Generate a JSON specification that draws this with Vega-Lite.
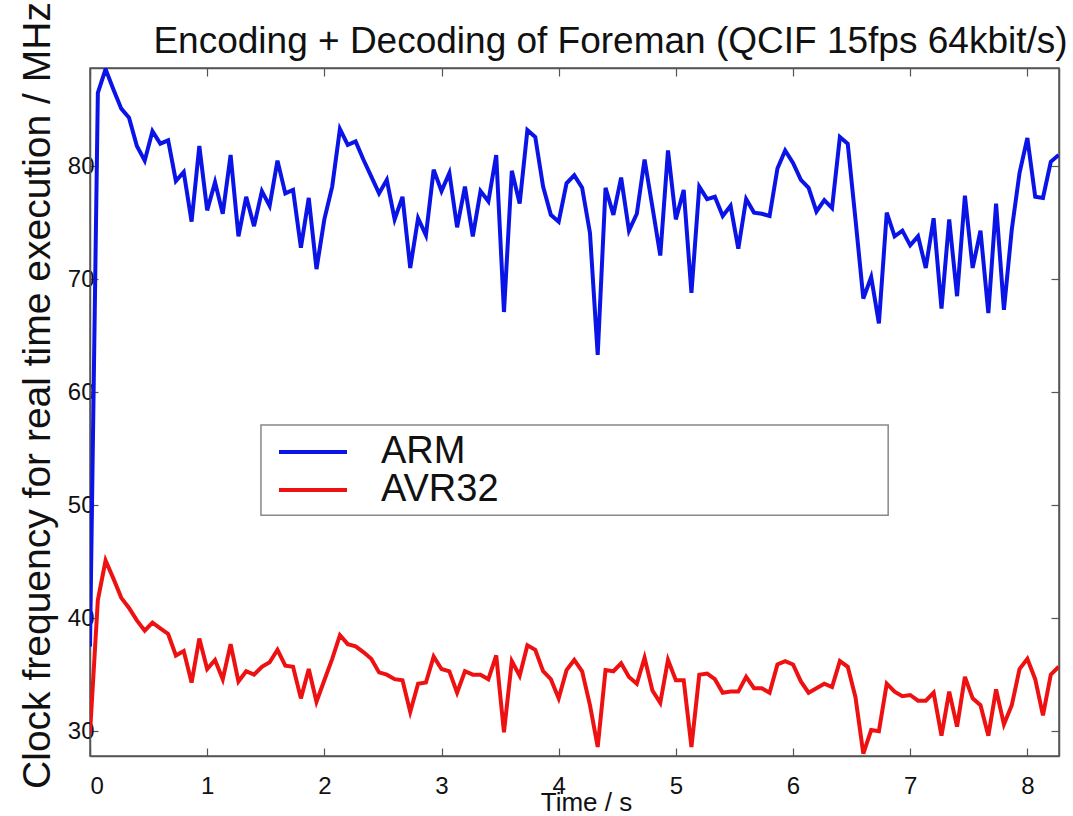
{
  "$schema": "https://vega.github.io/schema/vega-lite/v6.json",
  "width": 969,
  "height": 688,
  "autosize": "none",
  "padding": {"left": 90, "top": 68, "right": 14, "bottom": 60},
  "background": "white",
  "title": {"text": "Encoding + Decoding of Foreman (QCIF 15fps 64kbit/s)", "font": "Liberation Sans", "fontSize": 37, "fontWeight": "normal", "color": "#111", "anchor": "middle", "dx": 36, "dy": 69, "offset": 10},
  "config": {
    "view": {"stroke": "#555", "strokeWidth": 1.5},
    "axis": {"grid": false, "domainColor": "#555", "domainWidth": 1.5, "tickColor": "#555", "tickWidth": 1.2, "labelFont": "Liberation Sans", "labelColor": "#111", "titleFont": "Liberation Sans", "titleColor": "#111", "titleFontWeight": "normal"}
  },
  "datasets": {
    "freq": [
      {"time":0,"cpu":"ARM","mhz":37.5},{"time":0.067,"cpu":"ARM","mhz":86.5},{"time":0.133,"cpu":"ARM","mhz":88.6},{"time":0.2,"cpu":"ARM","mhz":86.8},{"time":0.267,"cpu":"ARM","mhz":85.1},{"time":0.333,"cpu":"ARM","mhz":84.3},{"time":0.4,"cpu":"ARM","mhz":81.8},{"time":0.467,"cpu":"ARM","mhz":80.5},{"time":0.533,"cpu":"ARM","mhz":83.1},{"time":0.6,"cpu":"ARM","mhz":82.0},{"time":0.667,"cpu":"ARM","mhz":82.3},{"time":0.733,"cpu":"ARM","mhz":78.7},{"time":0.8,"cpu":"ARM","mhz":79.5},{"time":0.867,"cpu":"ARM","mhz":75.1},{"time":0.933,"cpu":"ARM","mhz":81.8},
      {"time":1,"cpu":"ARM","mhz":76.1},{"time":1.067,"cpu":"ARM","mhz":78.6},{"time":1.133,"cpu":"ARM","mhz":75.8},{"time":1.2,"cpu":"ARM","mhz":81.0},{"time":1.267,"cpu":"ARM","mhz":73.8},{"time":1.333,"cpu":"ARM","mhz":77.3},{"time":1.4,"cpu":"ARM","mhz":74.7},{"time":1.467,"cpu":"ARM","mhz":77.8},{"time":1.533,"cpu":"ARM","mhz":76.5},{"time":1.6,"cpu":"ARM","mhz":80.5},{"time":1.667,"cpu":"ARM","mhz":77.6},{"time":1.733,"cpu":"ARM","mhz":77.9},{"time":1.8,"cpu":"ARM","mhz":72.8},{"time":1.867,"cpu":"ARM","mhz":77.2},{"time":1.933,"cpu":"ARM","mhz":70.9},
      {"time":2,"cpu":"ARM","mhz":75.3},{"time":2.067,"cpu":"ARM","mhz":78.2},{"time":2.133,"cpu":"ARM","mhz":83.3},{"time":2.2,"cpu":"ARM","mhz":81.9},{"time":2.267,"cpu":"ARM","mhz":82.2},{"time":2.333,"cpu":"ARM","mhz":80.6},{"time":2.4,"cpu":"ARM","mhz":79.1},{"time":2.467,"cpu":"ARM","mhz":77.6},{"time":2.533,"cpu":"ARM","mhz":78.8},{"time":2.6,"cpu":"ARM","mhz":75.3},{"time":2.667,"cpu":"ARM","mhz":77.3},{"time":2.733,"cpu":"ARM","mhz":71.0},{"time":2.8,"cpu":"ARM","mhz":75.4},{"time":2.867,"cpu":"ARM","mhz":73.9},{"time":2.933,"cpu":"ARM","mhz":79.7},
      {"time":3,"cpu":"ARM","mhz":77.8},{"time":3.067,"cpu":"ARM","mhz":79.4},{"time":3.133,"cpu":"ARM","mhz":74.6},{"time":3.2,"cpu":"ARM","mhz":78.2},{"time":3.267,"cpu":"ARM","mhz":73.8},{"time":3.333,"cpu":"ARM","mhz":77.8},{"time":3.4,"cpu":"ARM","mhz":76.9},{"time":3.467,"cpu":"ARM","mhz":81.0},{"time":3.533,"cpu":"ARM","mhz":67.1},{"time":3.6,"cpu":"ARM","mhz":79.6},{"time":3.667,"cpu":"ARM","mhz":76.7},{"time":3.733,"cpu":"ARM","mhz":83.2},{"time":3.8,"cpu":"ARM","mhz":82.6},{"time":3.867,"cpu":"ARM","mhz":78.2},{"time":3.933,"cpu":"ARM","mhz":75.7},
      {"time":4,"cpu":"ARM","mhz":75.1},{"time":4.067,"cpu":"ARM","mhz":78.5},{"time":4.133,"cpu":"ARM","mhz":79.2},{"time":4.2,"cpu":"ARM","mhz":78.1},{"time":4.267,"cpu":"ARM","mhz":74.1},{"time":4.333,"cpu":"ARM","mhz":63.3},{"time":4.4,"cpu":"ARM","mhz":78.1},{"time":4.467,"cpu":"ARM","mhz":75.7},{"time":4.533,"cpu":"ARM","mhz":79.0},{"time":4.6,"cpu":"ARM","mhz":74.3},{"time":4.667,"cpu":"ARM","mhz":75.8},{"time":4.733,"cpu":"ARM","mhz":80.6},{"time":4.8,"cpu":"ARM","mhz":76.4},{"time":4.867,"cpu":"ARM","mhz":72.1},{"time":4.933,"cpu":"ARM","mhz":81.4},
      {"time":5,"cpu":"ARM","mhz":75.3},{"time":5.067,"cpu":"ARM","mhz":77.9},{"time":5.133,"cpu":"ARM","mhz":68.8},{"time":5.2,"cpu":"ARM","mhz":78.2},{"time":5.267,"cpu":"ARM","mhz":77.1},{"time":5.333,"cpu":"ARM","mhz":77.3},{"time":5.4,"cpu":"ARM","mhz":75.6},{"time":5.467,"cpu":"ARM","mhz":76.5},{"time":5.533,"cpu":"ARM","mhz":72.7},{"time":5.6,"cpu":"ARM","mhz":77.1},{"time":5.667,"cpu":"ARM","mhz":75.9},{"time":5.733,"cpu":"ARM","mhz":75.8},{"time":5.8,"cpu":"ARM","mhz":75.6},{"time":5.867,"cpu":"ARM","mhz":79.8},{"time":5.933,"cpu":"ARM","mhz":81.4},
      {"time":6,"cpu":"ARM","mhz":80.3},{"time":6.067,"cpu":"ARM","mhz":78.8},{"time":6.133,"cpu":"ARM","mhz":78.1},{"time":6.2,"cpu":"ARM","mhz":76.0},{"time":6.267,"cpu":"ARM","mhz":77.0},{"time":6.333,"cpu":"ARM","mhz":76.3},{"time":6.4,"cpu":"ARM","mhz":82.6},{"time":6.467,"cpu":"ARM","mhz":82.0},{"time":6.533,"cpu":"ARM","mhz":75.3},{"time":6.6,"cpu":"ARM","mhz":68.3},{"time":6.667,"cpu":"ARM","mhz":70.2},{"time":6.733,"cpu":"ARM","mhz":66.1},{"time":6.8,"cpu":"ARM","mhz":75.9},{"time":6.867,"cpu":"ARM","mhz":73.8},{"time":6.933,"cpu":"ARM","mhz":74.3},
      {"time":7,"cpu":"ARM","mhz":73.0},{"time":7.067,"cpu":"ARM","mhz":73.8},{"time":7.133,"cpu":"ARM","mhz":71.0},{"time":7.2,"cpu":"ARM","mhz":75.4},{"time":7.267,"cpu":"ARM","mhz":67.4},{"time":7.333,"cpu":"ARM","mhz":75.3},{"time":7.4,"cpu":"ARM","mhz":68.5},{"time":7.467,"cpu":"ARM","mhz":77.4},{"time":7.533,"cpu":"ARM","mhz":71.0},{"time":7.6,"cpu":"ARM","mhz":74.3},{"time":7.667,"cpu":"ARM","mhz":67.0},{"time":7.733,"cpu":"ARM","mhz":76.7},{"time":7.8,"cpu":"ARM","mhz":67.3},{"time":7.867,"cpu":"ARM","mhz":74.4},{"time":7.933,"cpu":"ARM","mhz":79.4},
      {"time":8,"cpu":"ARM","mhz":82.5},{"time":8.067,"cpu":"ARM","mhz":77.3},{"time":8.133,"cpu":"ARM","mhz":77.2},{"time":8.2,"cpu":"ARM","mhz":80.4},{"time":8.267,"cpu":"ARM","mhz":81.0},
      {"time":0,"cpu":"AVR32","mhz":29.8},{"time":0.067,"cpu":"AVR32","mhz":41.6},{"time":0.133,"cpu":"AVR32","mhz":45.1},{"time":0.2,"cpu":"AVR32","mhz":43.5},{"time":0.267,"cpu":"AVR32","mhz":41.8},{"time":0.333,"cpu":"AVR32","mhz":40.9},{"time":0.4,"cpu":"AVR32","mhz":39.8},{"time":0.467,"cpu":"AVR32","mhz":38.9},{"time":0.533,"cpu":"AVR32","mhz":39.6},{"time":0.6,"cpu":"AVR32","mhz":39.1},{"time":0.667,"cpu":"AVR32","mhz":38.6},{"time":0.733,"cpu":"AVR32","mhz":36.7},{"time":0.8,"cpu":"AVR32","mhz":37.1},{"time":0.867,"cpu":"AVR32","mhz":34.3},{"time":0.933,"cpu":"AVR32","mhz":38.2},
      {"time":1,"cpu":"AVR32","mhz":35.5},{"time":1.067,"cpu":"AVR32","mhz":36.3},{"time":1.133,"cpu":"AVR32","mhz":34.6},{"time":1.2,"cpu":"AVR32","mhz":37.7},{"time":1.267,"cpu":"AVR32","mhz":34.4},{"time":1.333,"cpu":"AVR32","mhz":35.3},{"time":1.4,"cpu":"AVR32","mhz":35.0},{"time":1.467,"cpu":"AVR32","mhz":35.7},{"time":1.533,"cpu":"AVR32","mhz":36.1},{"time":1.6,"cpu":"AVR32","mhz":37.2},{"time":1.667,"cpu":"AVR32","mhz":35.8},{"time":1.733,"cpu":"AVR32","mhz":35.7},{"time":1.8,"cpu":"AVR32","mhz":32.9},{"time":1.867,"cpu":"AVR32","mhz":35.5},{"time":1.933,"cpu":"AVR32","mhz":32.6},
      {"time":2,"cpu":"AVR32","mhz":34.5},{"time":2.067,"cpu":"AVR32","mhz":36.4},{"time":2.133,"cpu":"AVR32","mhz":38.5},{"time":2.2,"cpu":"AVR32","mhz":37.7},{"time":2.267,"cpu":"AVR32","mhz":37.5},{"time":2.333,"cpu":"AVR32","mhz":37.0},{"time":2.4,"cpu":"AVR32","mhz":36.4},{"time":2.467,"cpu":"AVR32","mhz":35.2},{"time":2.533,"cpu":"AVR32","mhz":35.0},{"time":2.6,"cpu":"AVR32","mhz":34.6},{"time":2.667,"cpu":"AVR32","mhz":34.5},{"time":2.733,"cpu":"AVR32","mhz":31.7},{"time":2.8,"cpu":"AVR32","mhz":34.2},{"time":2.867,"cpu":"AVR32","mhz":34.3},{"time":2.933,"cpu":"AVR32","mhz":36.6},
      {"time":3,"cpu":"AVR32","mhz":35.5},{"time":3.067,"cpu":"AVR32","mhz":35.3},{"time":3.133,"cpu":"AVR32","mhz":33.4},{"time":3.2,"cpu":"AVR32","mhz":35.3},{"time":3.267,"cpu":"AVR32","mhz":35.0},{"time":3.333,"cpu":"AVR32","mhz":35.0},{"time":3.4,"cpu":"AVR32","mhz":34.6},{"time":3.467,"cpu":"AVR32","mhz":36.7},{"time":3.533,"cpu":"AVR32","mhz":29.9},{"time":3.6,"cpu":"AVR32","mhz":36.2},{"time":3.667,"cpu":"AVR32","mhz":34.9},{"time":3.733,"cpu":"AVR32","mhz":37.6},{"time":3.8,"cpu":"AVR32","mhz":37.2},{"time":3.867,"cpu":"AVR32","mhz":35.3},{"time":3.933,"cpu":"AVR32","mhz":34.6},
      {"time":4,"cpu":"AVR32","mhz":32.9},{"time":4.067,"cpu":"AVR32","mhz":35.4},{"time":4.133,"cpu":"AVR32","mhz":36.3},{"time":4.2,"cpu":"AVR32","mhz":35.3},{"time":4.267,"cpu":"AVR32","mhz":32.3},{"time":4.333,"cpu":"AVR32","mhz":28.6},{"time":4.4,"cpu":"AVR32","mhz":35.4},{"time":4.467,"cpu":"AVR32","mhz":35.3},{"time":4.533,"cpu":"AVR32","mhz":36.0},{"time":4.6,"cpu":"AVR32","mhz":34.8},{"time":4.667,"cpu":"AVR32","mhz":34.2},{"time":4.733,"cpu":"AVR32","mhz":36.5},{"time":4.8,"cpu":"AVR32","mhz":33.6},{"time":4.867,"cpu":"AVR32","mhz":32.5},{"time":4.933,"cpu":"AVR32","mhz":36.3},
      {"time":5,"cpu":"AVR32","mhz":34.5},{"time":5.067,"cpu":"AVR32","mhz":34.5},{"time":5.133,"cpu":"AVR32","mhz":28.6},{"time":5.2,"cpu":"AVR32","mhz":35.0},{"time":5.267,"cpu":"AVR32","mhz":35.1},{"time":5.333,"cpu":"AVR32","mhz":34.6},{"time":5.4,"cpu":"AVR32","mhz":33.4},{"time":5.467,"cpu":"AVR32","mhz":33.5},{"time":5.533,"cpu":"AVR32","mhz":33.5},{"time":5.6,"cpu":"AVR32","mhz":34.8},{"time":5.667,"cpu":"AVR32","mhz":33.8},{"time":5.733,"cpu":"AVR32","mhz":33.8},{"time":5.8,"cpu":"AVR32","mhz":33.4},{"time":5.867,"cpu":"AVR32","mhz":35.9},{"time":5.933,"cpu":"AVR32","mhz":36.2},
      {"time":6,"cpu":"AVR32","mhz":35.9},{"time":6.067,"cpu":"AVR32","mhz":34.4},{"time":6.133,"cpu":"AVR32","mhz":33.4},{"time":6.2,"cpu":"AVR32","mhz":33.8},{"time":6.267,"cpu":"AVR32","mhz":34.2},{"time":6.333,"cpu":"AVR32","mhz":33.9},{"time":6.4,"cpu":"AVR32","mhz":36.2},{"time":6.467,"cpu":"AVR32","mhz":35.7},{"time":6.533,"cpu":"AVR32","mhz":33.0},{"time":6.6,"cpu":"AVR32","mhz":28.0},{"time":6.667,"cpu":"AVR32","mhz":30.1},{"time":6.733,"cpu":"AVR32","mhz":30.0},{"time":6.8,"cpu":"AVR32","mhz":34.2},{"time":6.867,"cpu":"AVR32","mhz":33.5},{"time":6.933,"cpu":"AVR32","mhz":33.1},
      {"time":7,"cpu":"AVR32","mhz":33.2},{"time":7.067,"cpu":"AVR32","mhz":32.7},{"time":7.133,"cpu":"AVR32","mhz":32.7},{"time":7.2,"cpu":"AVR32","mhz":33.4},{"time":7.267,"cpu":"AVR32","mhz":29.6},{"time":7.333,"cpu":"AVR32","mhz":33.5},{"time":7.4,"cpu":"AVR32","mhz":30.4},{"time":7.467,"cpu":"AVR32","mhz":34.8},{"time":7.533,"cpu":"AVR32","mhz":32.9},{"time":7.6,"cpu":"AVR32","mhz":32.3},{"time":7.667,"cpu":"AVR32","mhz":29.6},{"time":7.733,"cpu":"AVR32","mhz":33.7},{"time":7.8,"cpu":"AVR32","mhz":30.6},{"time":7.867,"cpu":"AVR32","mhz":32.3},{"time":7.933,"cpu":"AVR32","mhz":35.5},
      {"time":8,"cpu":"AVR32","mhz":36.4},{"time":8.067,"cpu":"AVR32","mhz":34.6},{"time":8.133,"cpu":"AVR32","mhz":31.4},{"time":8.2,"cpu":"AVR32","mhz":35.0},{"time":8.267,"cpu":"AVR32","mhz":35.7}
    ]
  },
  "layer": [
    {
      "data": {"values": [{}]},
      "mark": {"type": "rect", "fill": "white", "stroke": "#888", "strokeWidth": 1.5},
      "encoding": {
        "x": {"datum": 1.459, "type": "quantitative", "scale": {"domain": [0, 8.27], "nice": false, "zero": false}, "axis": null},
        "x2": {"datum": 6.812},
        "y": {"datum": 57.1, "type": "quantitative", "scale": {"domain": [27.8, 88.7], "nice": false, "zero": false}, "axis": null},
        "y2": {"datum": 49.1}
      }
    },
    {
      "data": {"name": "freq"},
      "mark": {"type": "line", "strokeWidth": 4, "clip": true},
      "encoding": {
        "x": {"field": "time", "type": "quantitative", "scale": {"domain": [0, 8.27], "nice": false, "zero": false},
          "axis": {"orient": "bottom", "values": [0,1,2,3,4,5,6,7,8], "tickSize": -8, "labelPadding": 26, "labelFontSize": 24, "title": "Time / s", "titleFontSize": 26, "titleBaseline": "alphabetic", "titleY": 54, "titleX": 496}},
        "y": {"field": "mhz", "type": "quantitative", "scale": {"domain": [27.8, 88.7], "nice": false, "zero": false},
          "axis": {"orient": "left", "values": [30,40,50,60,70,80], "tickSize": -8, "labelPadding": 4, "labelFontSize": 24, "title": "Clock frequency for real time execution / MHz", "titleFontSize": 39, "titlePadding": 10, "titleY": 327}},
        "color": {"field": "cpu", "type": "nominal", "scale": {"domain": ["ARM", "AVR32"], "range": ["#0a14e6", "#ee1111"]},
          "legend": {"orient": "none", "legendX": 187, "legendY": 366, "title": null, "symbolType": "stroke", "symbolSize": 4624, "symbolStrokeWidth": 4, "labelFontSize": 38, "labelFont": "Liberation Sans", "labelColor": "#111", "labelOffset": 32, "clipHeight": 36, "rowPadding": 0, "padding": 0}}
      }
    },
    {
      "data": {"name": "freq"},
      "mark": {"type": "line", "opacity": 0},
      "encoding": {
        "x": {"field": "time", "type": "quantitative", "scale": {"domain": [0, 8.27], "nice": false, "zero": false},
          "axis": {"orient": "top", "values": [0,1,2,3,4,5,6,7,8], "tickSize": -8, "labels": false, "title": null}},
        "y": {"field": "mhz", "type": "quantitative", "scale": {"domain": [27.8, 88.7], "nice": false, "zero": false},
          "axis": {"orient": "right", "values": [30,40,50,60,70,80], "tickSize": -8, "labels": false, "title": null}},
        "detail": {"field": "cpu"}
      }
    }
  ],
  "resolve": {"axis": {"x": "independent", "y": "independent"}}
}
